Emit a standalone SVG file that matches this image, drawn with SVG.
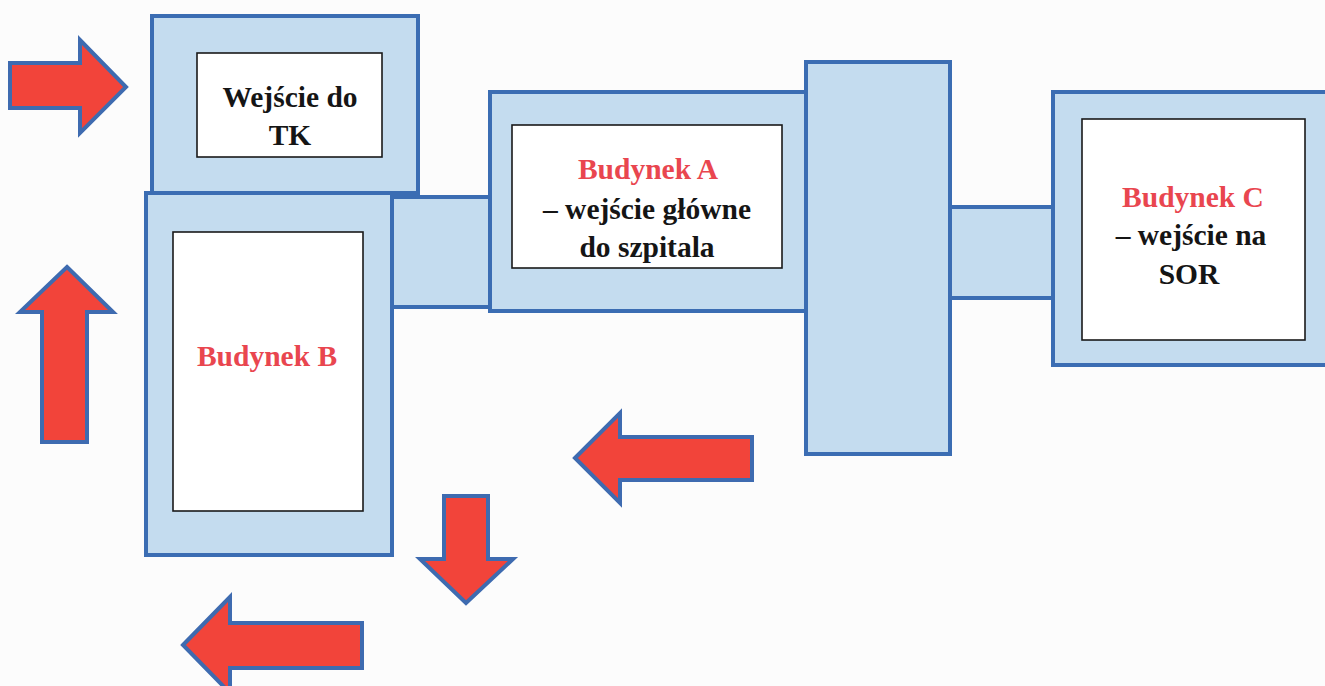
<svg xmlns="http://www.w3.org/2000/svg" width="1325" height="686" viewBox="0 0 1325 686">
<style>
.bld{fill:#c4dcef;stroke:#3b6db3;stroke-width:4}
.inner{fill:#ffffff;stroke:#1a1a1a;stroke-width:1.6}
.arrow{fill:#f2443a;stroke:#3e6bb0;stroke-width:4;stroke-linejoin:miter}
.t{font-family:"Liberation Serif","Times New Roman",serif;font-weight:bold;font-size:29.5px;text-anchor:middle;fill:#151515}
.red{fill:#e9464f}
</style>
<rect x="0" y="0" width="1325" height="686" fill="#fcfcfc"/>
<g id="connectors">
<rect id="corridor-BA" class="bld" x="392" y="197" width="98" height="110"/>
<rect id="corridor-AC" class="bld" x="949" y="207" width="104" height="91"/>
</g>
<g id="tk">
<rect class="bld" x="152" y="16" width="266" height="177"/>
<rect class="inner" x="197" y="53" width="185" height="104"/>
<text class="t" x="290" y="107">Wejście do</text>
<text class="t" x="290" y="145">TK</text>
</g>
<g id="budynek-b">
<rect class="bld" x="146" y="193" width="246" height="362"/>
<rect class="inner" x="173" y="232" width="190" height="279"/>
<text class="t red" x="267" y="366">Budynek B</text>
</g>
<g id="budynek-a">
<rect class="bld" x="490" y="92" width="316" height="219"/>
<rect class="inner" x="512" y="125" width="270" height="143"/>
<text class="t red" x="648" y="179">Budynek A</text>
<text class="t" x="647" y="219">– wejście główne</text>
<text class="t" x="647" y="257">do szpitala</text>
</g>
<g id="lacznik">
<rect class="bld" x="806" y="62" width="144" height="392"/>
</g>
<g id="budynek-c">
<rect class="bld" x="1053" y="92" width="280" height="273"/>
<rect class="inner" x="1082" y="119" width="223" height="221"/>
<text class="t red" x="1193" y="207">Budynek C</text>
<text class="t" x="1191" y="245">– wejście na</text>
<text class="t" x="1189" y="284">SOR</text>
</g>
<g id="arrows">
<path class="arrow" d="M10,63 L80,63 L80,40 L126,87 L80,133 L80,108 L10,108 Z"/>
<path class="arrow" d="M67,267 L113,312 L87,312 L87,442 L42,442 L42,312 L20,312 Z"/>
<path class="arrow" d="M575,458 L620,413 L620,437 L752,437 L752,480 L620,480 L620,503 Z"/>
<path class="arrow" d="M444,496 L488,496 L488,559 L513,559 L466,603 L420,559 L444,559 Z"/>
<path class="arrow" d="M183,645 L230,597 L230,623 L362,623 L362,668 L230,668 L230,693 Z"/>
</g>
</svg>
